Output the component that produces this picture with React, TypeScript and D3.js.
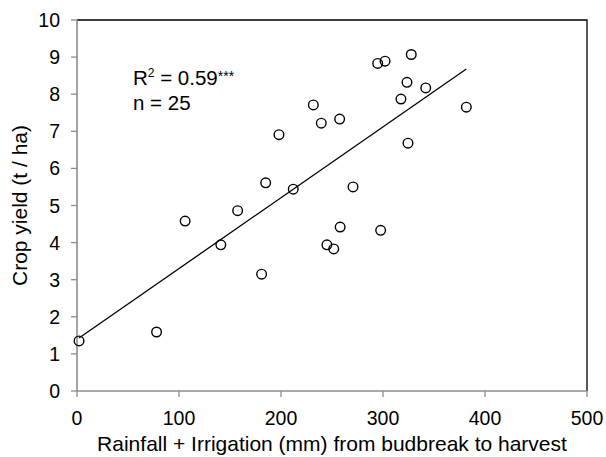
import React from "react";
import * as d3 from "d3";

const rainIrr = [2, 78, 106, 141, 157.5, 181, 185, 198, 212, 231.7, 239.5, 245, 251.7, 257.5, 258, 270.6, 294.8, 297.7, 302, 317.6, 323.5, 324.5, 327.7, 341.9, 381.7];
const yieldT = [1.35, 1.59, 4.58, 3.94, 4.86, 3.15, 5.61, 6.91, 5.44, 7.71, 7.22, 3.94, 3.83, 7.33, 4.42, 5.5, 8.83, 4.33, 8.89, 7.87, 8.32, 6.68, 9.07, 8.17, 7.65];
const xTicks = [0, 100, 200, 300, 400, 500];
const yTicks = [0, 1, 2, 3, 4, 5, 6, 7, 8, 9, 10];
const fitIntercept = 1.39;
const fitSlope = 0.0191;
const fitRange = [2, 381.7];

export default function App() {
  const W = 606, H = 457;
  const left = 77, right = 587, top = 20, bottom = 391;
  const x = d3.scaleLinear().domain([0, 500]).range([left, right]);
  const y = d3.scaleLinear().domain([0, 10]).range([bottom, top]);
  const line = d3.line<number>().x((d) => x(d)).y((d) => y(fitIntercept + fitSlope * d));
  const font = "Liberation Sans, Arial, sans-serif";
  const grey = "#8c8c8c";
  return (
    <svg width={W} height={H} style={{ position: "absolute", left: 0, top: 0 }} fontFamily={font}>
      <rect width={W} height={H} fill="#fff" />
      <path d={`M${left},${top}H${right}V${bottom}`} fill="none" stroke="#000" strokeWidth={1.3} />
      <line x1={left} x2={left} y1={top} y2={bottom} stroke={grey} strokeWidth={1.6} />
      <line x1={left} x2={right} y1={bottom} y2={bottom} stroke={grey} strokeWidth={1.6} />
      {yTicks.map((t) => (
        <g key={"y" + t}>
          <line x1={left - 6} x2={left} y1={y(t)} y2={y(t)} stroke={grey} strokeWidth={1.3} />
          <text x={60} y={y(t)} dy="0.36em" textAnchor="end" fontSize={19.5} fill="#000">{t}</text>
        </g>
      ))}
      {xTicks.map((t) => (
        <g key={"x" + t}>
          <line x1={x(t)} x2={x(t)} y1={bottom} y2={bottom + 6} stroke={grey} strokeWidth={1.3} />
          <text x={x(t)} y={425} textAnchor="middle" fontSize={19.5} fill="#000">{t}</text>
        </g>
      ))}
      <path d={line(fitRange) || ""} fill="none" stroke="#000" strokeWidth={1.3} />
      {rainIrr.map((v, i) => (
        <circle key={i} cx={x(v)} cy={y(yieldT[i])} r={4.8} fill="none" stroke="#000" strokeWidth={1.4} />
      ))}
      <text x={133} y={85} fontSize={20.5} fill="#000">
        R<tspan dy={-8} fontSize={12}>2</tspan><tspan dy={8}> = 0.59</tspan><tspan dy={-4} fontSize={14}>***</tspan>
      </text>
      <text x={133} y={110} fontSize={20.5} fill="#000">n = 25</text>
      <text x={(left + right) / 2} y={451} textAnchor="middle" fontSize={21} fill="#000">
        Rainfall + Irrigation (mm) from budbreak to harvest
      </text>
      <text transform={`translate(27,${(top + bottom) / 2}) rotate(-90)`} textAnchor="middle" fontSize={21} fill="#000">
        Crop yield (t / ha)
      </text>
    </svg>
  );
}
